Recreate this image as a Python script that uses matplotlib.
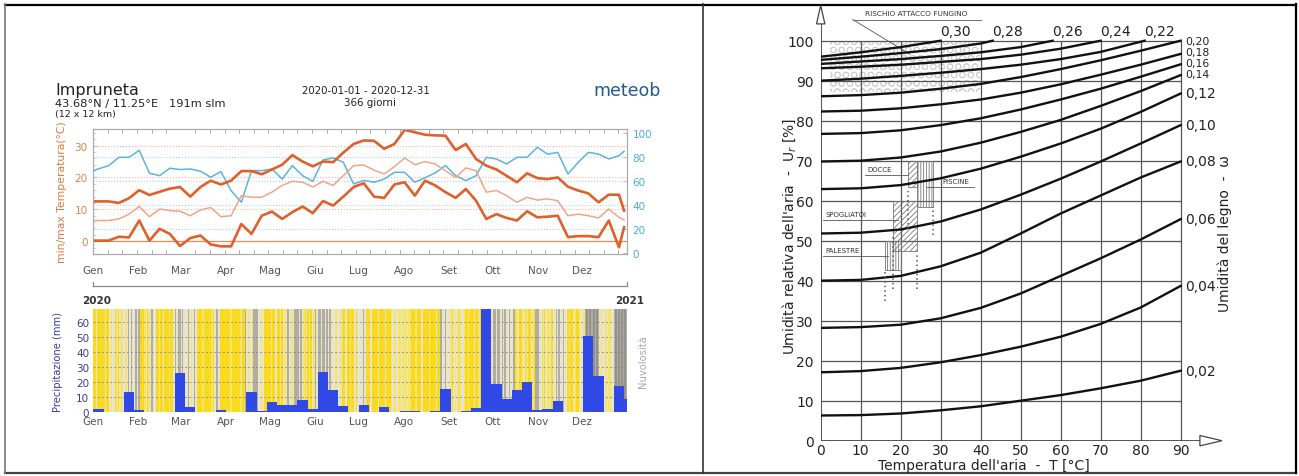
import numpy as np
import matplotlib.pyplot as plt
from matplotlib.patches import Rectangle, Polygon
from matplotlib.colors import to_rgb

plt.rcParams['font.family'] = 'DejaVu Sans'
plt.rcParams['hatch.linewidth'] = 0.6

# ---------------- left panel: meteoblue Impruneta 2020 ----------------
months = ['Gen', 'Feb', 'Mar', 'Apr', 'Mag', 'Giu', 'Lug', 'Ago', 'Set', 'Ott', 'Nov', 'Dez']
month_start = [0, 31, 60, 91, 121, 152, 182, 213, 244, 274, 305, 335]

# weekly points (day of year)
t_days = [0] + [3.5 + 7 * i for i in range(1, 52)] + [364]
t_max = [12.5, 12.5, 12.0, 13.5, 16.0, 14.5, 15.5, 16.5, 17.0, 14.0, 17.0, 19.0, 17.8,
         19.0, 22.0, 22.0, 21.0, 22.5, 24.0, 27.0, 25.0, 23.5, 25.0, 24.8, 27.8, 30.5,
         31.6, 31.5, 29.0, 30.5, 34.9, 34.2, 33.4, 33.2, 33.1, 28.6, 30.5, 25.8, 23.7,
         22.5, 20.5, 18.5, 21.3, 19.8, 19.5, 20.0, 17.1, 15.9, 15.0, 12.2, 14.6, 14.6, 9.6]
t_min = [0.2, 0.2, 1.4, 1.2, 6.5, 0.2, 3.9, 2.3, -1.5, 1.0, 1.8, -1.0, -1.6,
         -1.6, 5.4, 2.3, 8.0, 9.3, 7.0, 9.1, 10.9, 8.8, 12.6, 11.2, 14.0, 17.0,
         18.2, 14.0, 13.6, 17.8, 18.5, 14.3, 19.0, 17.5, 15.4, 13.6, 16.4, 12.7, 7.0,
         8.5, 7.3, 6.5, 9.4, 7.5, 7.7, 8.0, 1.3, 1.6, 1.6, 1.3, 6.5, -1.9, 4.4]
t_mean = [6.5, 6.5, 7.0, 8.5, 10.9, 7.7, 10.1, 9.6, 9.4, 8.0, 9.8, 10.6, 7.7,
          8.0, 14.3, 13.8, 13.8, 15.4, 17.5, 18.8, 18.5, 17.0, 18.8, 17.5, 20.6, 23.7,
          23.9, 22.3, 21.1, 23.4, 26.1, 24.0, 25.0, 24.2, 22.1, 20.0, 23.0, 22.1, 15.4,
          15.9, 14.3, 12.2, 13.8, 12.9, 13.3, 12.7, 8.0, 8.5, 8.0, 7.3, 10.1, 7.5, 6.7]
humidity = [69.0, 73.0, 80.0, 80.0, 85.8, 66.8, 64.7, 70.9, 69.8, 70.3, 68.4, 63.4, 68.1,
            52.2, 42.5, 68.9, 68.9, 70.3, 61.9, 73.1, 64.7, 60.0, 77.8, 79.5, 75.8, 57.8,
            60.8, 59.2, 61.9, 67.5, 67.5, 59.2, 63.0, 67.0, 73.1, 64.7, 60.6, 64.7, 80.0,
            78.6, 74.4, 80.0, 80.0, 88.3, 82.7, 84.1, 66.1, 75.8, 84.1, 82.7, 78.6, 81.4, 85.0]

# weekly precipitation (mm), weeks starting on day 0, 7, 14, ...
precip = [2.2, 0, 0, 13.8, 1.5, 0.5, 0.5, 0.5, 26.2, 3.8, 0, 0, 1.5, 0.3, 0, 13.8,
          0.8, 6.7, 4.9, 4.9, 8.4, 2.2, 26.7, 14.9, 4.0, 0, 4.9, 0, 3.3, 0, 0.7, 0.7,
          0, 0.7, 15.5, 0, 0.7, 2.7, 69.0, 18.9, 9.1, 14.9, 20.4, 1.3, 2.4, 7.3, 0, 0,
          50.7, 24.4, 0, 17.3, 8.9]

# daily cloudiness: Y sunny, L mostly sunny, P hazy, G cloudy, D overcast
cloud_month = [
    "YYPYYYYYPYYPLPPYLYPYPPLPGPGPPGP",
    "GYYYLPYLPGPPYYLYYPYYYLYYPGPGG",
    "PGPPPGPLPGPYYYYLYYYYYLYPGGPYYYY",
    "YYYLYYYYYYLYYGPLPPLGGGPPLPYYYY",
    "YLYYPYYLYPLPGPPLPGGGPGPLYPYLYPL",
    "GPGGPGGPGPGPPPLPPLPYYPYYLYYPYP",
    "PPPGPYYYPYYYYPYYYYPYYYLPLLPLLPL",
    "LLPLLYYYLYYYPYYYYLYYYYPYYGPPGPP",
    "PLYPLPYLPPLYYLYYYPYYLYPGPPGPGP",
    "GGPGGPGPGPPGPPGYLPYYLPYLYYPLYGG",
    "GPPLYPLLPYPPGPGPPGPPYLYYPLYYLP",
    "PLGDGDGGDGDGPLPPLPLLPPGDGDGDGDG",
]
cloud_colors = {'Y': '#f9da1f', 'L': '#f5e56e', 'P': '#e9e4cc', 'G': '#b0ada3', 'D': '#94928c'}

# ---------------- right panel: wood equilibrium moisture ----------------
temp_grid = [0, 10, 20, 30, 40, 50, 60, 70, 80, 90]
w002 = [6.3, 6.4, 6.8, 7.6, 8.6, 10.0, 11.4, 13.1, 15.0, 17.5]
w004 = [17.1, 17.4, 18.2, 19.6, 21.4, 23.5, 26.0, 29.2, 33.3, 38.7]
w006 = [28.2, 28.4, 29.0, 30.6, 33.2, 36.8, 41.2, 45.6, 50.3, 55.4]
w008 = [40.0, 40.2, 41.2, 43.6, 47.0, 51.8, 56.8, 61.3, 65.8, 69.8]
w010 = [51.8, 52.0, 52.8, 54.8, 57.8, 61.5, 65.5, 69.8, 74.3, 78.9]
w012 = [62.9, 63.1, 63.9, 65.6, 68.0, 71.0, 74.3, 78.0, 82.2, 86.8]
w014 = [69.8, 70.0, 70.8, 72.3, 74.5, 77.2, 80.2, 83.7, 87.4, 91.4]
w016 = [76.7, 76.9, 77.6, 78.9, 80.6, 82.8, 85.3, 88.0, 91.0, 94.1]
w018 = [82.3, 82.5, 83.1, 84.1, 85.3, 87.0, 89.1, 91.5, 94.0, 96.7]
w020 = [86.1, 86.4, 87.0, 88.0, 89.2, 90.9, 92.9, 95.1, 97.5, 100.0]
w022_t = [0, 10, 20, 30, 40, 50, 60, 70, 81]
w022 = [90.0, 90.5, 91.2, 92.0, 92.9, 94.0, 95.4, 97.2, 100.0]
w024_t = [0, 10, 20, 30, 40, 50, 60, 70]
w024 = [93.1, 93.5, 94.0, 94.7, 95.4, 96.5, 98.0, 100.0]
w026_t = [0, 10, 20, 30, 40, 50, 58]
w026 = [94.2, 94.8, 95.4, 96.2, 97.1, 98.4, 100.0]
w028_t = [0, 10, 20, 30, 40, 43]
w028 = [95.2, 96.0, 96.9, 97.9, 99.3, 100.0]
w030_t = [0, 10, 20, 30]
w030 = [96.0, 97.1, 98.4, 100.0]

side_curves = [w002, w004, w006, w008, w010, w012, w014, w016, w018, w020]
side_labels = ['0,02', '0,04', '0,06', '0,08', '0,10', '0,12', '0,14', '0,16', '0,18', '0,20']
side_label_rh = [17.5, 38.7, 55.4, 69.8, 78.9, 86.8, 91.6, 94.4, 97.2, 100.0]
side_label_size = [10, 10, 10, 10, 10, 10, 7.8, 7.8, 7.8, 7.8]
top_curves = [(w022_t, w022), (w024_t, w024), (w026_t, w026), (w028_t, w028), (w030_t, w030)]
top_labels = ['0,22', '0,24', '0,26', '0,28', '0,30']

zone_names = ['DOCCE', 'PISCINE', 'SPOGLIATOI', 'PALESTRE']
zone_t0 = [21.8, 24.0, 18.0, 16.0]
zone_t1 = [24.0, 28.0, 24.0, 20.0]
zone_rh0 = [63.5, 58.5, 47.5, 42.8]
zone_rh1 = [70.0, 70.0, 60.0, 50.0]
zone_hatch = ['//////', '||||||', '//////', '||||||']
zone_text_t = [11.6, 30.3, 1.1, 1.1]
zone_text_rh = [67.8, 64.9, 56.6, 47.7]
zone_line_t0 = [11.1, 26.6, 0.6, 0.6]
zone_line_t1 = [21.8, 38.3, 19.3, 16.8]
zone_line_rh = [66.4, 63.5, 55.2, 46.3]
dot_t = [21.8, 28.0, 16.0, 18.0, 24.0]
dot_rh0 = [53.0, 51.5, 35.0, 38.0, 38.0]
dot_rh1 = [62.5, 58.5, 42.8, 51.0, 47.0]

# ---------------- figure ----------------
W, H = 1299, 477
fig = plt.figure(figsize=(W / 100, H / 100), dpi=100)


def box(x0, y0, x1, y1):
    return [x0 / W, 1 - y1 / H, (x1 - x0) / W, (y1 - y0) / H]


bg = fig.add_axes([0, 0, 1, 1])
bg.set_xlim(0, W)
bg.set_ylim(H, 0)
bg.axis('off')

# table frame
bg.plot([5, 1296], [5.5, 5.5], color='black', lw=1.6)
bg.plot([5, 1296], [473.5, 473.5], color='#444', lw=1.6)
bg.plot([5, 5], [5, 474], color='#777', lw=1.2)
bg.plot([1296.5, 1296.5], [5, 474], color='black', lw=1.6)
bg.plot([703, 703], [5, 474], color='#333', lw=1.2)

# header of the meteoblue picture
bg.text(55, 95.5, 'Impruneta', fontsize=11.5, color='#222')
bg.text(55, 106.5, '43.68°N / 11.25°E   191m slm', fontsize=8.2, color='#222')
bg.text(55, 117, '(12 x 12 km)', fontsize=6.8, color='#222')
bg.text(366, 94, '2020-01-01 - 2020-12-31', fontsize=7.4, color='#222', ha='center')
bg.text(370, 106, '366 giorni', fontsize=7.4, color='#222', ha='center')
bg.text(593, 96, 'meteob', fontsize=12.5, color='#245a8e')
bg.text(62, 192, 'min/max Temperatura(°C)', fontsize=7.8, color='#e07a45',
        rotation=90, ha='center', va='center')
bg.text(58, 362, 'Precipitazione (mm)', fontsize=7.2, color='#3a3aa8',
        rotation=90, ha='center', va='center')
bg.text(643, 362, 'Nuvolosità', fontsize=7.2, color='#a8a8a8',
        rotation=90, ha='center', va='center')
bg.plot([93.3, 627], [286.5, 286.5], color='#888', lw=0.9)
bg.plot([93.3, 93.3], [282.5, 286.5], color='#888', lw=0.9)
bg.plot([627, 627], [282.5, 286.5], color='#888', lw=0.9)
bg.text(82, 304, '2020', fontsize=7.5, color='#333', fontweight='bold')
bg.text(615, 304, '2021', fontsize=7.5, color='#333', fontweight='bold')

# temperature / humidity
ax_t = fig.add_axes(box(93.3, 130, 627, 255))
ax_t.set_xlim(0, 366)
ax_t.set_ylim(-4, 35.2)
ax_h = ax_t.twinx()
ax_h.set_ylim(-0.6, 103.6)
for v in [10, 20, 30]:
    ax_t.axhline(v, color='#f3b59b', ls=':', lw=0.8)
ax_t.axhline(0, color='#f08a5a', lw=0.9)
for v in [20, 40, 60, 80]:
    ax_h.axhline(v, color='#a6d6ec', ls=':', lw=0.8)
ax_h.plot(t_days, humidity, color='#5ab4dc', lw=1.1)
ax_h.plot(t_days, t_mean, color='#f2a586', lw=1.1, transform=ax_t.transData)
ax_h.plot(t_days, t_max, color='#e15f2b', lw=1.9, transform=ax_t.transData)
ax_h.plot(t_days, t_min, color='#e15f2b', lw=1.9, transform=ax_t.transData)

ax_t.set_xticks(month_start, months)
ax_t.set_xticks(np.arange(0, 366, 10), minor=True)
ax_t.tick_params(axis='x', which='major', length=0, labelsize=7.5, labelcolor='#555', pad=8)
ax_t.tick_params(axis='x', which='minor', direction='in', length=3, color='#999',
                 top=True, bottom=True)
ax_t.set_yticks([0, 10, 20, 30])
ax_t.set_yticks(np.arange(-4, 36, 2), minor=True)
ax_t.tick_params(axis='y', which='major', direction='in', length=3, color='#bbb',
                 labelsize=7.5, labelcolor='#e8804a', pad=4)
ax_t.tick_params(axis='y', which='minor', direction='in', length=2, color='#ccc')
ax_h.set_yticks([0, 20, 40, 60, 80, 100])
ax_h.tick_params(axis='y', direction='in', length=3, color='#bbb',
                 labelsize=7.5, labelcolor='#4aaed6', pad=4)
for ax in (ax_t, ax_h):
    for s in ax.spines.values():
        s.set_color('#aaaaaa')
        s.set_linewidth(0.8)

# precipitation + cloudiness
ax_p = fig.add_axes(box(93.3, 310, 627, 413.3))
cloud_code = ''.join(cloud_month)
cloud_rgb = np.array([to_rgb(cloud_colors[c]) for c in cloud_code])[None, :, :]
ax_p.imshow(cloud_rgb, extent=(0, 366, 0, 69), aspect='auto', interpolation='nearest', zorder=0)
week_start = np.arange(0, 366, 7)
week_width = np.minimum(7, 366 - week_start)
ax_p.bar(week_start, precip, width=week_width, align='edge', color='#2f48e6', lw=0, zorder=3)
ax_p.set_xlim(0, 366)
ax_p.set_ylim(0, 69)
ax_p.set_yticks(range(0, 70, 10))
ax_p.grid(axis='y', color='#8c8c8c', ls=(0, (2.5, 2.5)), lw=0.6)
ax_p.set_xticks(month_start, months)
ax_p.tick_params(axis='x', length=0, labelsize=7.5, labelcolor='#555', pad=3)
ax_p.tick_params(axis='y', length=0, labelsize=7.5, labelcolor='#3b3b9e', pad=3)
for s in ax_p.spines.values():
    s.set_visible(False)

# ---------------- right panel ----------------
ax_w = fig.add_axes(box(820.7, 1.7, 1224.7, 441.7))
ax_w.set_xlim(0, 101)
ax_w.set_ylim(0, 110)
ax_w.patch.set_alpha(0)
for s in ax_w.spines.values():
    s.set_visible(False)

# fungal-risk area
ax_w.add_patch(Rectangle((2.3, 87.3), 37.5, 12.7, fill=False, hatch='OO',
                         edgecolor='#cfcfcf', lw=0, zorder=1))

ax_w.vlines(temp_grid[1:], 0, 100, color='#555', lw=0.9, zorder=2)
ax_w.hlines(range(10, 101, 10), 0, 90, color='#555', lw=0.9, zorder=2)
ax_w.vlines(0, 0, 104.2, color='#444', lw=1.3, zorder=3)
ax_w.hlines(0, 0, 94.8, color='#444', lw=1.3, zorder=3)
ax_w.add_patch(Polygon([[-1.05, 104.2], [1.05, 104.2], [0, 108.8]], closed=True,
                       fc='white', ec='#444', lw=0.9, clip_on=False, zorder=4))
ax_w.add_patch(Polygon([[94.8, 1.3], [94.8, -1.3], [100.3, 0]], closed=True,
                       fc='white', ec='#444', lw=0.9, clip_on=False, zorder=4))

# room zones
for i, name in enumerate(zone_names):
    ax_w.add_patch(Rectangle((zone_t0[i], zone_rh0[i]), zone_t1[i] - zone_t0[i],
                             zone_rh1[i] - zone_rh0[i], fill=False, hatch=zone_hatch[i],
                             edgecolor='#777', lw=0.6, zorder=2))
    ax_w.text(zone_text_t[i], zone_text_rh[i], name, fontsize=5, color='#333',
              va='center', zorder=5)
    ax_w.plot([zone_line_t0[i], zone_line_t1[i]], [zone_line_rh[i], zone_line_rh[i]],
              color='#555', lw=0.6, zorder=5)
ax_w.vlines(dot_t, dot_rh0, dot_rh1, color='#555', lw=1.1, ls=(0, (1, 2)), zorder=5)

ax_w.text(23.8, 107.0, 'RISCHIO ATTACCO FUNGINO', fontsize=5.3, color='#333',
          ha='center', va='center')
ax_w.plot([8.0, 40.0], [105.3, 105.3], color='#555', lw=0.6, clip_on=False)
ax_w.plot([8.0, 22.3], [105.3, 96.6], color='#555', lw=0.6, clip_on=False)

# moisture curves
for rh, lab, lrh, fs in zip(side_curves, side_labels, side_label_rh, side_label_size):
    ax_w.plot(temp_grid, rh, color='#111', lw=1.7, zorder=4)
    ax_w.text(91.2, lrh, lab, fontsize=fs, color='#222', va='center')
for (tt, rh), lab in zip(top_curves, top_labels):
    ax_w.plot(tt, rh, color='#111', lw=1.7, zorder=4)
    ax_w.text(tt[-1] + 3.8, 102.4, lab, fontsize=10, color='#222', ha='center', va='center')

ax_w.set_xticks(temp_grid)
ax_w.set_xticklabels([str(t) for t in temp_grid])
ax_w.set_yticks(range(0, 101, 10))
ax_w.tick_params(axis='x', length=0, labelsize=10, labelcolor='#222', pad=2)
ax_w.tick_params(axis='y', length=0, labelsize=10, labelcolor='#222', pad=5)

bg.text(984, 466, "Temperatura dell'aria  -  T [°C]", fontsize=10, color='#222',
        ha='center', va='center')
bg.text(789, 236, "Umidità relativa dell'aria  -  U$_r$ [%]", fontsize=10, color='#222',
        rotation=90, ha='center', va='center')
bg.text(1225, 234, 'Umidità del legno  -  ω', fontsize=10, color='#222',
        rotation=90, ha='center', va='center')

fig.savefig('out.png', dpi=100)
